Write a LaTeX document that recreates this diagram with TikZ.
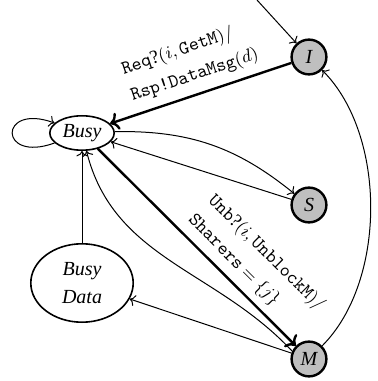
\documentclass[tikz,border=0pt]{standalone}
\usepackage{fontspec}
\setmainfont{Liberation Serif}
\usepackage{amsmath,amssymb}
\usepackage{tikz}
\usetikzlibrary{shapes.geometric,arrows.meta}

\begin{document}
\begin{tikzpicture}[x=0.5pt,y=0.5pt,
    state/.style={circle,draw,line width=1.2pt,fill=gray!50,minimum size=17.4pt,inner sep=0pt,font=\itshape},
    busystate/.style={ellipse,draw,line width=0.8pt,inner sep=0pt,font=\itshape,align=center},
    trans/.style={->,line width=0.5pt},
    heavy/.style={->,line width=1.2pt},
    msg/.style={sloped,align=left,font=\fontsize{9.5}{14}\selectfont}]
        \useasboundingbox (0,0) rectangle (378,381);

        \node [state] (I) at (309,324) {I};
        \node [state] (S) at (309,176) {S};
        \node [state] (M) at (309,22) {M};
        \node [busystate,minimum width=32.2pt,minimum height=17.2pt] (busy) at (82,248) {Busy};
        \node [busystate,minimum width=51.2pt,minimum height=39.2pt] (busydata) at (82,98) {Busy\\[2pt] Data};
        \coordinate (start) at (257,381);

        \draw [trans] (start) -- (I);
        \draw [trans] (busy.200) to [out=200,in=160,min distance=30pt] (busy.160);
        \draw [heavy] (I) -- node [msg,above=1pt] {\texttt{Req}?$(i,\texttt{GetM})/$\\\texttt{Rsp!DataMsg}$(d)$} (busy);
        \draw [trans] (busy) to [bend left=20] (S);
        \draw [trans] (S) -- (busy.-17);
        \draw [heavy] (busy) -- node [msg,above,pos=0.69] {\texttt{Unb}?$(i,\texttt{UnblockM})/$\\\texttt{Sharers} $=\{j\}$} (M);
        \draw [trans] (busydata) -- (busy);
        \draw [trans] (M.155) to [out=133,in=-76] (busy);
        \draw [trans] (M) -- (busydata);
        \draw [trans] (M) to [out=45,in=-45,looseness=0.85] (I);
    \end{tikzpicture}
\end{document}
